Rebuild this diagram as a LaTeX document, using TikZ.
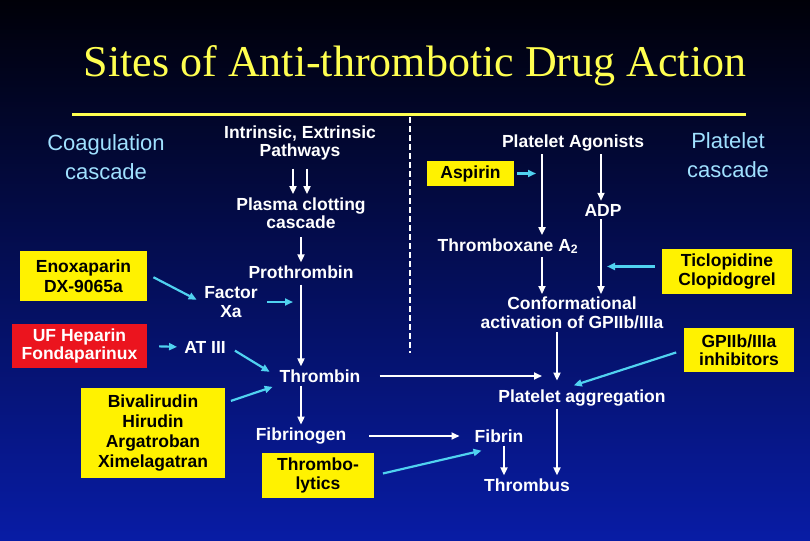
\documentclass[tikz,border=0pt]{standalone}
\usepackage{fontspec}
\setmainfont{Liberation Sans}
\newfontfamily\titlefont{Liberation Serif}
\usetikzlibrary{arrows.meta}
\definecolor{slidetop}{RGB}{0,0,8}
\definecolor{slidemid}{RGB}{8,20,105}
\definecolor{slidebot}{RGB}{8,28,165}
\definecolor{cascblue}{RGB}{160,225,255}
\definecolor{inhcyan}{RGB}{80,210,240}
\definecolor{titleyel}{RGB}{255,255,80}
\definecolor{hepred}{RGB}{235,20,30}
\tikzset{
	lbl/.style={text=white, font=\bfseries\fontsize{17.5}{18.5}\selectfont, align=center, inner sep=3pt},
	drug/.style={lbl, fill=yellow, text=black, inner sep=0pt},
	cascade/.style={text=cascblue, font=\fontsize{22}{29}\selectfont, align=center, inner sep=0pt},
	flow/.style={white, line width=1.8pt, -{Triangle[length=8pt,width=7pt]}},
	block/.style={inhcyan, line width=2.2pt, -{Triangle[length=8pt,width=7pt]}}
}

\begin{document}
\begin{tikzpicture}[x=1pt, y=-1pt]
	\useasboundingbox (0,0) rectangle (810,540);
	\shade[top color=slidetop, middle color=slidemid, bottom color=slidebot] (0,0) rectangle (810,540);
	\draw[white, line width=1.5pt, dash pattern=on 6pt off 3pt] (410,117) -- (410,353);
	\draw[titleyel, line width=3pt] (72,115) -- (746,115);
	\node[font=\titlefont\fontsize{44}{50}\selectfont, text=titleyel] (title) at (415,66) {Sites of Anti-thrombotic Drug Action};

	\node[cascade] (coag) at (106,157) {Coagulation\\cascade};
	\node[cascade] (platcasc) at (728,155) {Platelet\\cascade};

	\node[lbl] (intr) at (300,143) {Intrinsic, Extrinsic\\Pathways};
	\node[lbl] (plasma) at (301,213) {Plasma clotting\\cascade};
	\node[lbl] (prothr) at (301,272) {Prothrombin};
	\node[lbl] (factor) at (231,302) {Factor\\Xa};
	\node[lbl] (at3) at (205,347) {AT III};
	\node[lbl] (thrombin) at (320,376) {Thrombin};
	\node[lbl] (fibrinogen) at (301,436) {Fibrinogen};
	\node[lbl] (agon) at (573,143) {Platelet Agonists};
	\node[lbl] (adp) at (603,210) {ADP};
	\node[lbl] (txa) at (508,246) {Thromboxane A\textsubscript{2}};
	\node[lbl] (conf) at (572,313) {Conformational\\activation of GPIIb/IIIa};
	\node[lbl] (platagg) at (582,398) {Platelet aggregation};
	\node[lbl] (fibrin) at (499,436) {Fibrin};
	\node[lbl] (thrombus) at (527,485) {Thrombus};

	\node[drug, minimum width=127pt, minimum height=50pt, font=\bfseries\fontsize{17.5}{20}\selectfont] (enox) at (83.5,276) {Enoxaparin\\DX-9065a};
	\node[drug, fill=hepred, text=white, minimum width=135pt, minimum height=44pt] (ufhep) at (79.5,346) {UF Heparin\\Fondaparinux};
	\node[drug, minimum width=144pt, minimum height=90pt, font=\bfseries\fontsize{17.5}{20}\selectfont] (bival) at (153,433) {Bivalirudin\\Hirudin\\Argatroban\\Ximelagatran};
	\node[drug, minimum width=112pt, minimum height=45pt] (thrlyt) at (318,475.5) {Thrombo-\\lytics};
	\node[drug, minimum width=87pt, minimum height=25pt] (aspirin) at (470.5,173.5) {Aspirin};
	\node[drug, minimum width=130pt, minimum height=45pt] (ticlo) at (727,271.5) {Ticlopidine\\Clopidogrel};
	\node[drug, minimum width=110pt, minimum height=44pt] (gp) at (739,350) {GPIIb/IIIa\\inhibitors};

	\coordinate (txlane) at (542,0);
	\coordinate (adplane) at (601,0);
	\coordinate (agglane) at (557,0);

	\draw[flow, shorten <=5pt] ([xshift=-7pt]intr.south) -- ([xshift=-8pt]plasma.north);
	\draw[flow, shorten <=5pt] ([xshift=7pt]intr.south) -- ([xshift=6pt]plasma.north);
	\draw[flow, shorten <=5pt] (plasma.south) -- (prothr.north);
	\draw[flow, shorten <=3pt] (prothr.south) -- (prothr.south |- thrombin.north);
	\draw[flow] (prothr.south |- thrombin.south) -- (fibrinogen.north);
	\draw[flow, shorten <=16pt, shorten >=15pt] (thrombin.east) -- (thrombin.east -| agglane);
	\draw[flow, shorten <=20pt, shorten >=12pt] (fibrinogen.east) -- (fibrin.west);
	\draw[flow] ([xshift=5pt]fibrin.south) -- ([xshift=5pt]fibrin.south |- thrombus.north);
	\draw[flow, shorten >=6pt] (conf.south -| agglane) -- (platagg.north -| agglane);
	\draw[flow] (platagg.south -| agglane) -- (thrombus.north -| agglane);
	\draw[flow] (agon.south -| txlane) -- (txa.north -| txlane);
	\draw[flow] (txa.south -| txlane) -- (conf.north -| txlane);
	\draw[flow] (agon.south -| adplane) -- (adp.north -| adplane);
	\draw[flow] (adp.south -| adplane) -- (conf.north -| adplane);

	\draw[block, shorten <=7pt, shorten >=5pt] ([yshift=2pt]enox.east) -- (factor.west);
	\draw[block, shorten <=6pt, shorten >=8pt] (factor.east) -- (factor.east -| prothr.south);
	\draw[block, shorten <=12pt, shorten >=4pt] (ufhep.east) -- (at3.west);
	\draw[block, shorten <=7pt, shorten >=8pt] (at3.east) -- (thrombin.west);
	\draw[block, shorten <=6pt, shorten >=4pt] ([yshift=-15pt]bival.north east) -- (thrombin.south west);
	\draw[block, shorten <=9pt] (thrlyt.east) -- ([xshift=10pt,yshift=-5pt]fibrin.south west);
	\draw[block, shorten <=3pt, shorten >=6pt] (aspirin.east) -- (aspirin.east -| txlane);
	\draw[block, shorten <=7pt, shorten >=6pt] ([yshift=5pt]ticlo.west) -- ([yshift=5pt]ticlo.west -| adplane);
	\draw[block, shorten <=8pt, shorten >=4pt] (gp.west) -- ([xshift=-12pt]platagg.north);
\end{tikzpicture}
\end{document}
